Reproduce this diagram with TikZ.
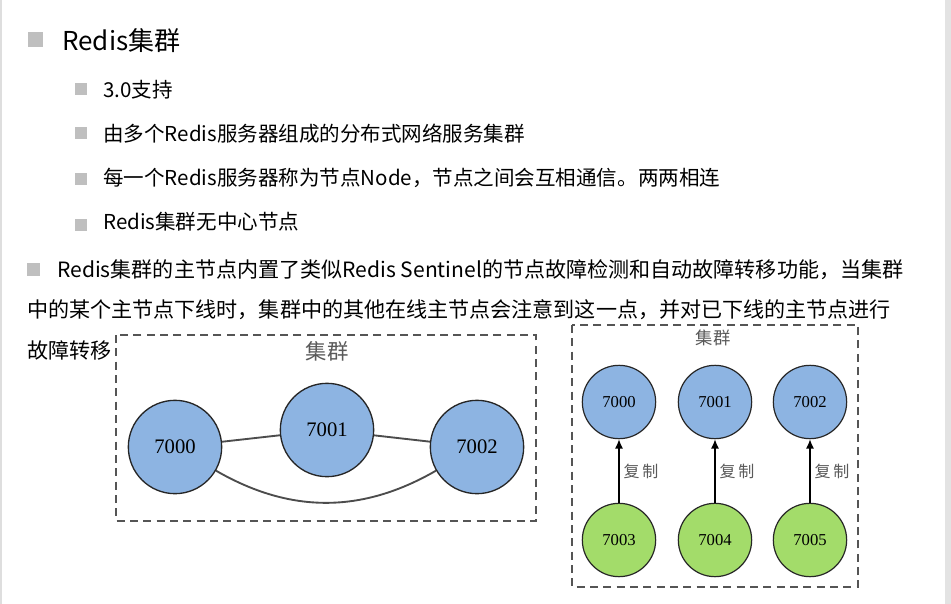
\documentclass[tikz,border=0pt]{standalone}
\usepackage{fontspec}
\setmainfont{Noto Sans CJK SC}
\newfontfamily\numfont{Liberation Serif}
\usetikzlibrary{arrows.meta}
\definecolor{bul}{HTML}{BFBFBF}
\definecolor{nblue}{HTML}{8DB4E2}
\definecolor{ngreen}{HTML}{A3DC6A}
\definecolor{boxgray}{HTML}{555555}
\definecolor{lblgray}{HTML}{5A5A5A}
\begin{document}
\begin{tikzpicture}[x=0.75pt,y=-0.75pt,
  bullet/.style={fill=bul,draw=none,minimum size=11pt,inner sep=0pt},
  sbullet/.style={fill=bul,draw=none,minimum size=9pt,inner sep=0pt},
  txt/.style={anchor=west,inner sep=0pt,text=black},
  bignode/.style={circle,draw=black!85,line width=1pt,fill=nblue,minimum size=70pt,inner sep=0pt,font=\numfont\fontsize{15.5}{15.5}\selectfont},
  smallblue/.style={circle,draw=black!85,line width=0.9pt,fill=nblue,minimum size=55pt,inner sep=0pt,font=\numfont\fontsize{12.5}{12.5}\selectfont},
  smallgreen/.style={smallblue,fill=ngreen},
  clusterbox/.style={draw=boxgray,line width=1.5pt,dash pattern=on 6pt off 4pt},
  link/.style={draw=black!70,line width=1.4pt},
  repl/.style={draw=black,line width=1pt,-{Latex[length=7pt,width=6pt]}},
  lbl/.style={text=lblgray,inner sep=0pt}
]
\useasboundingbox (0,0) rectangle (951,604);
\fill[white] (0,0) rectangle (951,604);
\fill[black!13] (0,0) rectangle (2,604);
\fill[black!11] (945,0) rectangle (951,604);

% title
\node[bullet] (b0) at (35.5,39.5) {};
\node[txt,font=\fontsize{19.5}{20}\selectfont] (t0) at (62,41) {Redis集群};
% sub items
\node[sbullet] (b1) at (81,88.5) {};
\node[txt,font=\fontsize{15.4}{16}\selectfont] (t1) at (103,90) {3.0支持};
\node[sbullet] (b2) at (81,133) {};
\node[txt,font=\fontsize{15.4}{16}\selectfont] (t2) at (103,134) {由多个Redis服务器组成的分布式网络服务集群};
\node[sbullet] (b3) at (81,179) {};
\node[txt,font=\fontsize{15.4}{16}\selectfont] (t3) at (103,178) {每一个Redis服务器称为节点Node，节点之间会互相通信。两两相连};
\node[sbullet] (b4) at (81,224.5) {};
\node[txt,font=\fontsize{15.4}{16}\selectfont] (t4) at (103,222) {Redis集群无中心节点};
% paragraph
\node[bullet,minimum size=9.75pt] (b5) at (33.5,269) {};
\node[txt,font=\fontsize{15.8}{17}\selectfont] (p1) at (57,270) {Redis集群的主节点内置了类似Redis Sentinel的节点故障检测和自动故障转移功能，当集群};
\node[txt,font=\fontsize{15.8}{17}\selectfont] (p2) at (27,310) {中的某个主节点下线时，集群中的其他在线主节点会注意到这一点，并对已下线的主节点进行};
\node[txt,font=\fontsize{15.8}{17}\selectfont] (p3) at (27,350) {故障转移};

% left diagram
\draw[clusterbox] (116,335) rectangle (536,521);
\node[lbl,font=\fontsize{16}{16}\selectfont] (c1) at (327,351) {集群};
\node[bignode] (a0) at (175,447) {7000};
\node[bignode] (a1) at (327,430) {7001};
\node[bignode] (a2) at (477,447) {7002};
\draw[link] (a0) -- (a1);
\draw[link] (a1) -- (a2);
\draw[link] (a0) to[out=-30,in=-150] (a2);

% right diagram
\draw[clusterbox] (572,325) rectangle (858,587);
\node[lbl,font=\fontsize{13}{13}\selectfont] (c2) at (713,338) {集群};
\node[smallblue] (m0) at (619,402) {7000};
\node[smallblue] (m1) at (715,402) {7001};
\node[smallblue] (m2) at (810,402) {7002};
\node[smallgreen] (s0) at (619,540) {7003};
\node[smallgreen] (s1) at (715,540) {7004};
\node[smallgreen] (s2) at (810,540) {7005};
\draw[repl] (s0) -- node[lbl,right=3pt,font=\fontsize{12}{12}\selectfont] {复\,制} (m0);
\draw[repl] (s1) -- node[lbl,right=3pt,font=\fontsize{12}{12}\selectfont] {复\,制} (m1);
\draw[repl] (s2) -- node[lbl,right=3pt,font=\fontsize{12}{12}\selectfont] {复\,制} (m2);
\end{tikzpicture}
\end{document}
